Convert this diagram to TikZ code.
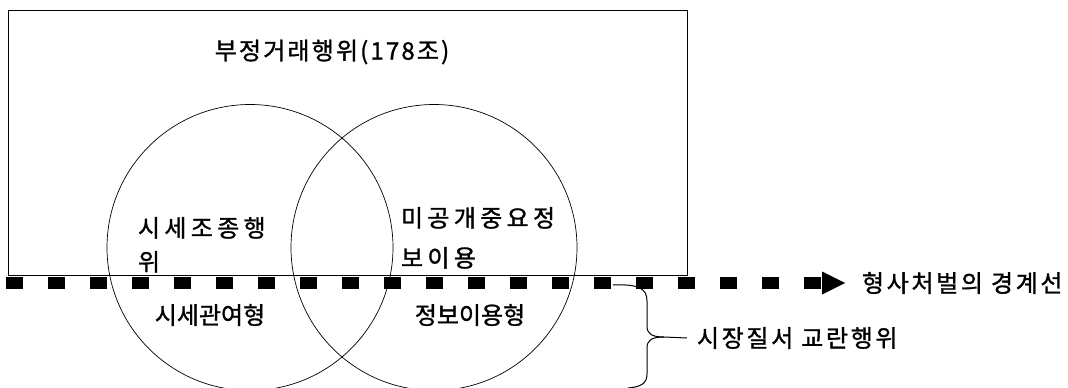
\documentclass[tikz,border=0pt]{standalone}
\usepackage{fontspec}
\newfontfamily\kr{Noto Sans CJK KR}[FakeBold=1.2]
\newfontfamily\krt{Noto Sans CJK KR}[FakeBold=1.2,LetterSpace=9]
\newfontfamily\krw{Noto Sans CJK KR}[FakeBold=1.2,LetterSpace=11]
\newfontfamily\krsp{Noto Sans CJK KR}[FakeBold=1.2,LetterSpace=18]
\begin{document}
\begin{tikzpicture}[x=1pt,y=-1pt,
  txt/.style={font=\kr\fontsize{24}{28}\selectfont, inner sep=0pt, outer sep=0pt},
  ttxt/.style={font=\krt\fontsize{24}{28}\selectfont, inner sep=0pt, outer sep=0pt},
  wtxt/.style={font=\krw\fontsize{24}{28}\selectfont, inner sep=0pt, outer sep=0pt},
  sptxt/.style={font=\krsp\fontsize{24}{#1}\selectfont, inner sep=0pt, outer sep=0pt, align=left, anchor=north west},
  frame/.style={draw, line width=0.9pt, inner sep=0pt, outer sep=0pt},
  ring/.style={draw, circle, line width=0.7pt, inner sep=0pt, outer sep=0pt, minimum size=286pt},
  dashline/.style={line width=12pt, dash pattern=on 17pt off 25pt},
  braceline/.style={line width=1pt}]
\useasboundingbox[fill=white] (0,0) rectangle (1068,388);
% outer rectangle
\node[frame, minimum width=679pt, minimum height=265pt] (box) at (347.5,142.5) {};
% circles
\node[ring] (c1) at (250,247.5) {};
\node[ring] (c2) at (434,247.5) {};
% texts
\node[ttxt] (title) at (332,52) {부정거래행위(178조)};
\node[sptxt=34pt] (manip) at (138,217) {시세조종행\\위};
\node[sptxt=40pt] (insider) at (401,207) {미공개중요정\\보이용};
\node[txt] (price) at (210,315) {시세관여형};
\node[txt] (info) at (470,315) {정보이용형};
\node[wtxt, anchor=west] (crim) at (862,283) {형사처벌의 경계선};
\node[wtxt, anchor=west] (mkt) at (697,338) {시장질서 교란행위};
% dashed boundary line with arrow head
\coordinate (dstart) at (6,283);
\coordinate (dend) at (822,283);
\draw[dashline] (dstart) -- (dend);
\fill (dend) ++(0,-11.5) -- ++(23,11.5) -- ++(-23,11.5) -- cycle;
% brace
\coordinate (btop) at (613,285);
\coordinate (bbot) at (628,388);
\coordinate (btip) at (664,337);
\draw[braceline] (btop) .. controls (638,284) and (647,288) .. (647,301)
  -- (647,326) .. controls (647,334) and (652,337) .. (btip)
  -- ([xshift=-10pt]mkt.west);
\draw[braceline] (btip) .. controls (652,337) and (647,340) .. (647,348)
  -- (647,374) .. controls (647,384) and (640,387) .. (bbot);
\end{tikzpicture}
\end{document}
